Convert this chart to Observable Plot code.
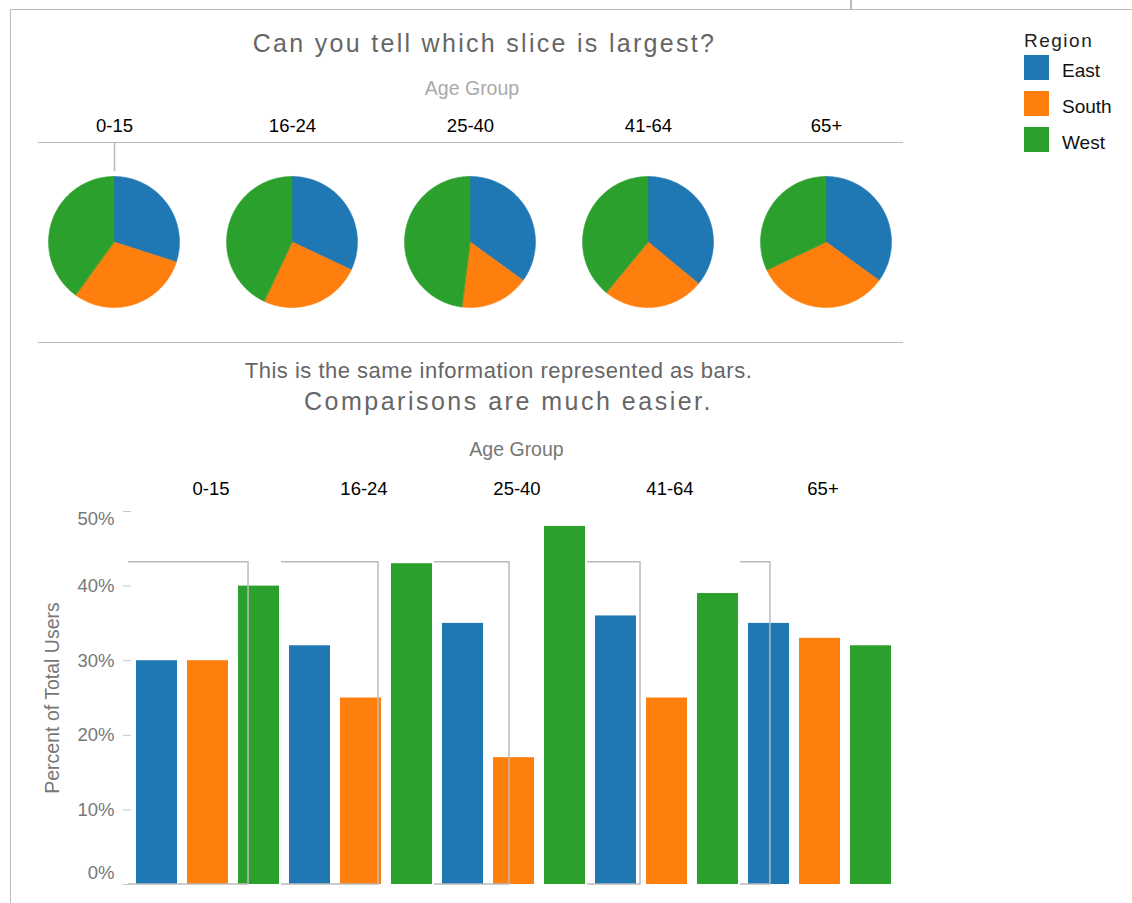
<!DOCTYPE html>
<html>
<head>
<meta charset="utf-8">
<script src="https://cdn.jsdelivr.net/npm/d3@7"></script>
<script src="https://cdn.jsdelivr.net/npm/@observablehq/plot@0.6"></script>
<style>
  html, body { margin: 0; padding: 0; background: #fff; }
  #root { position: relative; width: 1132px; height: 903px; overflow: hidden; font-family: "Liberation Sans", Arial, sans-serif; }
  .abs { position: absolute; white-space: nowrap; line-height: 1; }
  .line { position: absolute; background: #bbb; }
  #root svg { position: absolute; overflow: visible; }
  svg g[aria-label="y-axis tick"] path, svg g[aria-label="y-axis"] .tick line { stroke: #c8c8c8; }
</style>
</head>
<body>
<div id="root"></div>
<script>
// ---- data ----
const ageGroups = ["0-15", "16-24", "25-40", "41-64", "65+"];
const regions = ["East", "South", "West"];
const east  = [30, 32, 35, 36, 35];
const south = [30, 25, 17, 25, 33];
const west  = [40, 43, 48, 39, 32];
const regionColors = ["#1f77b4", "#ff7f0e", "#2ca02c"];
const yTicks = [0, 10, 20, 30, 40, 50];

// decoration (grey group brackets seen in the source image)
const bracketTopValue = 43.2;
const bracketWidthFrac = [0.765, 0.614, 0.471, 0.327, 0.176];

const seriesByRegion = {East: east, South: south, West: west};
const table = [];
ageGroups.forEach((g, i) => regions.forEach(r => table.push({group: g, region: r, value: seriesByRegion[r][i]})));

// pie wedge outlines (geometry only: angles come from the values)
const piePts = [];
ageGroups.forEach((g, i) => {
  const total = d3.sum(regions, r => seriesByRegion[r][i]);
  let acc = 0;
  regions.forEach(r => {
    const v = seriesByRegion[r][i];
    const a0 = acc / total * 2 * Math.PI, a1 = (acc + v) / total * 2 * Math.PI;
    acc += v;
    const n = Math.max(2, Math.ceil((a1 - a0) * 180 / Math.PI));
    for (let k = 0; k <= n; k++) {
      const a = a0 + (a1 - a0) * k / n;
      piePts.push({group: g, region: r, key: g + "|" + r, x: Math.sin(a), y: Math.cos(a)});
    }
  });
});

const root = document.getElementById("root");
const FONT = '"Liberation Sans", Arial, sans-serif';

function addText(txt, cx, baseline, size, color, ls = 0, anchor = "middle") {
  const d = document.createElement("div");
  d.className = "abs";
  d.textContent = txt;
  d.style.fontSize = size + "px";
  d.style.color = color;
  d.style.letterSpacing = ls + "px";
  d.style.top = (baseline - 0.8465 * size) + "px";
  d.style.left = cx + "px";
  if (anchor === "middle") d.style.transform = "translateX(-50%)";
  root.appendChild(d);
  return d;
}
function addLine(x, y, w, h) {
  const d = document.createElement("div");
  d.className = "line";
  Object.assign(d.style, {left: x + "px", top: y + "px", width: w + "px", height: h + "px"});
  root.appendChild(d);
}

// outer frame lines
addLine(9.5, 8.5, 1132, 1.5);
addLine(9.5, 8.5, 1.5, 900);
addLine(850, 0, 1.5, 9);

// ---- pies ----
const piePlot = Plot.plot({
  width: 940, height: 320,
  marginLeft: 24, marginRight: 25, marginTop: 176.5, marginBottom: 12.5,
  style: {fontFamily: FONT, fontSize: "18px", background: "transparent", overflow: "visible"},
  fx: {domain: ageGroups, padding: 0, axis: null},
  x: {domain: [-1.36, 1.36], axis: null},
  y: {domain: [-1, 1], axis: null},
  color: {domain: regions, range: regionColors},
  marks: [
    Plot.area(piePts, {fx: "group", x1: "x", y1: "y", x2: () => 0, y2: () => 0, z: "key", fill: "region", stroke: "region", strokeWidth: 0.6}),
    Plot.text(ageGroups, {fx: d => d, text: d => d, frameAnchor: "top", dy: -58.5, fill: "#000", fontSize: 18.5}),
    Plot.ruleX([ageGroups[0]], {fx: d => d, x: () => 0, y1: () => 1.527, y2: () => 1.08, stroke: "#bbb", strokeWidth: 1.5})
  ]
});
piePlot.style.left = "0px"; piePlot.style.top = "0px";
root.appendChild(piePlot);

addLine(38, 141.5, 865, 1.5);
addLine(38, 341.5, 865, 1.5);

addText("Can you tell which slice is largest?", 484.5, 52, 25, "#666", 2.3);
addText("Age Group", 472, 96, 19.5, "#aaa");

// ---- bars ----
const barPlot = Plot.plot({
  width: 940, height: 473,
  marginLeft: 131, marginRight: 44, marginTop: 81, marginBottom: 19,
  style: {fontFamily: FONT, fontSize: "18.5px", color: "#777", background: "transparent", overflow: "visible"},
  fx: {domain: ageGroups, padding: 0, axis: null},
  x: {domain: regions, paddingInner: 0.2, paddingOuter: 0.1, axis: null},
  y: {domain: [0, 50], ticks: yTicks, tickFormat: d => d + "%", label: "Percent of Total Users",
      labelAnchor: "center", labelArrow: false, labelOffset: 86, tickSize: 8, tickPadding: 9},
  color: {domain: regions, range: regionColors},
  marks: [
    Plot.barY(table, {fx: "group", x: "region", y: "value", fill: "region"}),
    Plot.text(ageGroups, {fx: d => d, text: d => d, frameAnchor: "top", dy: -30, dx: 3, fill: "#000", fontSize: 18.5})
  ]
});
barPlot.style.left = "0px"; barPlot.style.top = "430px";
root.appendChild(barPlot);

// strip any label arrow, nudge end tick labels inside the range (as in the source)
d3.select(barPlot).selectAll("text").each(function () {
  const t = d3.select(this);
  if (/Percent of Total Users/.test(t.text())) {
    t.selectAll("tspan").each(function () { const s = d3.select(this); s.text(s.text().replace(/\s*[↑→↓←]\s*/g, "")); });
    if (t.selectAll("tspan").empty()) t.text(t.text().replace(/\s*[↑→↓←]\s*/g, ""));
    t.style("font-size", "19.5px");
  }
  const txt = t.text();
  const tr = t.attr("transform") || "";
  if (txt === "50%") t.attr("transform", tr + " translate(0,8)");
  if (txt === "0%") t.attr("transform", tr + " translate(0,-11)");
});

// grey brackets overlay
(function () {
  const fx = barPlot.scale("fx"), y = barPlot.scale("y");
  const svg = d3.select(barPlot);
  const yt = y.apply(bracketTopValue), yb = y.apply(0);
  ageGroups.forEach((g, i) => {
    const s = fx.apply(g);
    const x0 = s - 3, x1 = s + bracketWidthFrac[i] * fx.bandwidth;
    svg.append("path")
      .attr("d", `M${x0},${yt}H${x1}V${yb}H${x0}`)
      .attr("fill", "none").attr("stroke", "#bbb").attr("stroke-width", 1.5);
  });
})();

addText("This is the same information represented as bars.", 498.5, 379, 22, "#666", 0.5);
addText("Comparisons are much easier.", 508.5, 410, 25, "#666", 2.5);
addText("Age Group", 516.5, 457, 19.5, "#777");

// ---- legend ----
addText("Region", 1024, 47, 19, "#222", 1.5, "start");
regions.forEach((r, i) => {
  const sw = document.createElement("div");
  Object.assign(sw.style, {position: "absolute", left: "1024px", top: (55 + 36 * i) + "px", width: "25px", height: "25px", background: regionColors[i]});
  root.appendChild(sw);
  addText(r, 1062, 77 + 36 * i, 19, "#111", 0, "start");
});
</script>
</body>
</html>
